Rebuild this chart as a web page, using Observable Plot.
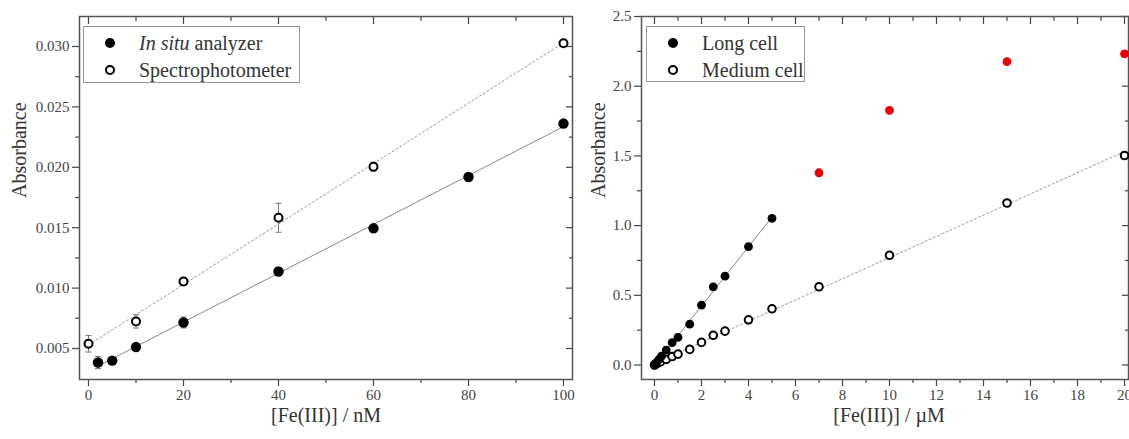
<!DOCTYPE html>
<html><head><meta charset="utf-8">
<script src="https://cdn.jsdelivr.net/npm/d3@7"></script>
<script src="https://cdn.jsdelivr.net/npm/@observablehq/plot@0.6"></script>
<style>
body{margin:0;background:#fff;font-family:"Liberation Serif",serif;}
#wrap{position:relative;width:1129px;height:439px;display:flex;overflow:hidden;}
#wrap svg{overflow:visible;font-family:"Liberation Serif",serif;}
#wrap svg text{font-family:"Liberation Serif",serif;}
.legend{position:absolute;border:1px solid #999;background:#fff;box-sizing:border-box;}
.row{position:absolute;left:0;height:24px;display:flex;align-items:center;font-size:20px;color:#333;white-space:nowrap;}
.row svg{position:absolute;left:20px;top:6px;}
.row span{position:absolute;left:55px;}
</style>
</head><body>
<div id="wrap"></div>
<script>
// ---------- Left panel data (nM) ----------
const nM_inSitu   = [2, 5, 10, 20, 40, 60, 80, 100];
const abs_inSitu  = [0.00384, 0.00400, 0.00512, 0.00715, 0.01137, 0.01495, 0.01920, 0.02362];
const err_inSitu  = [0.00050, 0.00020, 0.00020, 0.00045, 0.00020, 0.00020, 0.00020, 0.00020];
const nM_spec     = [0, 10, 20, 40, 60, 100];
const abs_spec    = [0.00539, 0.00724, 0.01055, 0.01582, 0.02005, 0.03027];
const err_spec    = [0.00068, 0.00055, 0.00030, 0.00120, 0.00037, 0.00020];
const leftLegend  = [["In situ", " analyzer"], ["", "Spectrophotometer"]];
const leftXTicks  = [0, 20, 40, 60, 80, 100];
const leftXMinor  = [10, 30, 50, 70, 90];
const leftYTicks  = [0.005, 0.010, 0.015, 0.020, 0.025, 0.030];
const leftYMinor  = [0.0075, 0.0125, 0.0175, 0.0225, 0.0275];
const leftXLabel  = "[Fe(III)] / nM";

// ---------- Right panel data (µM) ----------
const uM_long   = [0, 0.05, 0.1, 0.2, 0.3, 0.5, 0.75, 1, 1.5, 2, 2.5, 3, 4, 5];
const abs_long  = [0.000, 0.011, 0.021, 0.042, 0.063, 0.107, 0.160, 0.198, 0.293, 0.429, 0.561, 0.637, 0.849, 1.052];
const uM_sat    = [7, 10, 15, 20];
const abs_sat   = [1.379, 1.827, 2.176, 2.232];
const uM_med    = [0, 0.1, 0.25, 0.5, 0.75, 1, 1.5, 2, 2.5, 3, 4, 5, 7, 10, 15, 20];
const abs_med   = [0.000, 0.010, 0.022, 0.040, 0.061, 0.078, 0.112, 0.162, 0.213, 0.243, 0.324, 0.403, 0.561, 0.787, 1.162, 1.503];
const rightLegend = [["", "Long cell"], ["", "Medium cell"]];
const rightXTicks = [0, 2, 4, 6, 8, 10, 12, 14, 16, 18, 20];
const rightXMinor = [1, 3, 5, 7, 9, 11, 13, 15, 17, 19];
const rightYTicks = [0, 0.5, 1.0, 1.5, 2.0, 2.5];
const rightYMinor = [0.25, 0.75, 1.25, 1.75, 2.25];
const rightXLabel = "[Fe(III)] / µM";
const yLabel = "Absorbance";

const FONT = "Liberation Serif, serif";
const zip = (xs, ys, es) => xs.map((x, i) => ({x, y: ys[i], e: es ? es[i] : 0}));

const capSymbol = {draw(ctx, size) { const r = Math.sqrt(size / Math.PI); ctx.moveTo(-r, 0); ctx.lineTo(r, 0); }};

function errorMarks(data) {
  const o = {stroke: "#777", strokeWidth: 1};
  return [
    Plot.ruleX(data, {x: "x", y1: d => d.y - d.e, y2: d => d.y + d.e, ...o}),
    Plot.dot(data, {x: "x", y: d => d.y - d.e, symbol: capSymbol, r: 3, fill: "none", ...o}),
    Plot.dot(data, {x: "x", y: d => d.y + d.e, symbol: capSymbol, r: 3, fill: "none", ...o})
  ];
}

function axes(xT, xM, yT, yM, yFmt, xLabel, yLabelDx, xLabelDx) {
  const c = {color: "#444", strokeWidth: 1.2, fontSize: 15, fontFamily: FONT, label: null};
  const none = () => "";
  return [
    Plot.axisX({...c, ticks: xT, tickSize: 7, tickFormat: d => String(d)}),
    Plot.axisX({...c, ticks: xM, tickSize: 4, tickFormat: none}),
    Plot.axisX({...c, anchor: "top", ticks: xT, tickSize: -7, tickFormat: none}),
    Plot.axisX({...c, anchor: "top", ticks: xM, tickSize: -4, tickFormat: none}),
    Plot.axisY({...c, ticks: yT, tickSize: 7, tickPadding: 3, tickFormat: yFmt}),
    Plot.axisY({...c, ticks: yM, tickSize: 4, tickFormat: none}),
    Plot.axisY({...c, anchor: "right", ticks: yT, tickSize: -7, tickFormat: none}),
    Plot.axisY({...c, anchor: "right", ticks: yM, tickSize: -4, tickFormat: none}),
    Plot.frame({stroke: "#555", strokeWidth: 1.5}),
    Plot.text([xLabel], {text: d => d, frameAnchor: "bottom", dy: 42, dx: xLabelDx, fontSize: 20, fontFamily: FONT, fill: "#333"}),
    Plot.text([yLabel], {text: d => d, frameAnchor: "left", rotate: -90, dx: yLabelDx, fontSize: 20, fontFamily: FONT, fill: "#333"})
  ];
}

const inSitu = zip(nM_inSitu, abs_inSitu, err_inSitu);
const spec = zip(nM_spec, abs_spec, err_spec);

const left = Plot.plot({
  width: 585, height: 439,
  marginLeft: 79, marginRight: 13, marginTop: 16, marginBottom: 60,
  style: {fontFamily: FONT, background: "white", overflow: "visible"},
  x: {domain: [-1.895, 101.895], label: null},
  y: {domain: [0.002434, 0.032483], label: null},
  marks: [
    ...axes(leftXTicks, leftXMinor, leftYTicks, leftYMinor, d3.format(".3f"), leftXLabel, -60, 0),
    Plot.linearRegressionY(spec, {x: "x", y: "y", stroke: "#999", strokeWidth: 1, strokeDasharray: "2,2.5", ci: 0}),
    Plot.linearRegressionY(inSitu, {x: "x", y: "y", stroke: "#888", strokeWidth: 1, ci: 0}),
    ...errorMarks(spec),
    ...errorMarks(inSitu),
    Plot.dot(spec, {x: "x", y: "y", r: 4, fill: "white", stroke: "black", strokeWidth: 2}),
    Plot.dot(inSitu, {x: "x", y: "y", r: 5.2, fill: "black"})
  ]
});

const longC = zip(uM_long, abs_long);
const sat = zip(uM_sat, abs_sat);
const med = zip(uM_med, abs_med);

const right = Plot.plot({
  width: 544, height: 439,
  marginLeft: 56, marginRight: 1, marginTop: 16, marginBottom: 60,
  style: {fontFamily: FONT, background: "white", overflow: "visible"},
  x: {domain: [-0.553, 20.17], label: null},
  y: {domain: [-0.104, 2.5], label: null},
  marks: [
    ...axes(rightXTicks, rightXMinor, rightYTicks, rightYMinor, d3.format(".1f"), rightXLabel, -43, 4),
    Plot.linearRegressionY(med, {x: "x", y: "y", stroke: "#999", strokeWidth: 1, strokeDasharray: "2,2.5", ci: 0}),
    Plot.linearRegressionY(longC, {x: "x", y: "y", stroke: "#888", strokeWidth: 1, ci: 0}),
    Plot.dot(med, {x: "x", y: "y", r: 3.8, fill: "white", stroke: "black", strokeWidth: 2}),
    Plot.dot(longC, {x: "x", y: "y", r: 4.4, fill: "black"}),
    Plot.dot(sat, {x: "x", y: "y", r: 4.4, fill: "#e8000b"})
  ]
});

const wrap = document.getElementById("wrap");
wrap.appendChild(left);
wrap.appendChild(right);

function legend(items, left, top, width, height) {
  const box = document.createElement("div");
  box.className = "legend";
  Object.assign(box.style, {left: left + "px", top: top + "px", width: width + "px", height: height + "px"});
  items.forEach((it, i) => {
    const row = document.createElement("div");
    row.className = "row";
    row.style.top = (4 + i * 27) + "px";
    row.style.width = width + "px";
    const filled = i === 0;
    row.innerHTML = `<svg width="12" height="12"><circle cx="6" cy="6" r="${filled ? 5 : 4}" fill="${filled ? "black" : "white"}" stroke="black" stroke-width="${filled ? 0 : 2}"/></svg>` +
      `<span>${it[0] ? `<i>${it[0]}</i>` : ""}${it[1]}</span>`;
    box.appendChild(row);
  });
  wrap.appendChild(box);
}
legend(leftLegend, 83, 26, 217, 57);
legend(rightLegend, 646, 26, 159, 56);
</script>
</body></html>
